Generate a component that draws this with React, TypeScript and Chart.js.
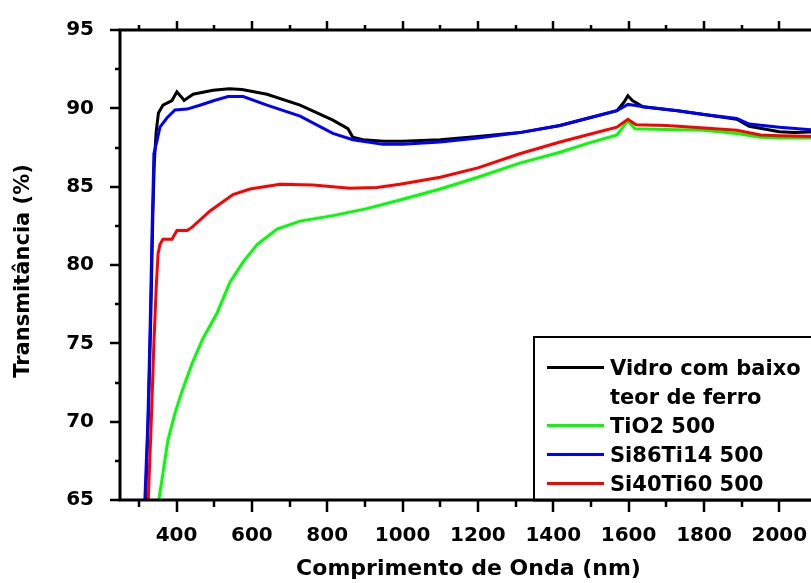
import { useEffect, useRef } from "react";
import { Chart, registerables } from "chart.js";

Chart.register(...registerables);

// ---- Data (wavelength in nm, transmittance in %) ----
const vidroX = [305, 318, 326, 332, 337, 341, 346, 352, 364, 388, 401, 408, 414, 420, 444, 497, 540, 574, 640, 728, 815, 855, 868, 895, 950, 1000, 1100, 1200, 1311, 1418, 1489, 1569, 1588, 1598, 1610, 1638, 1730, 1800, 1887, 1920, 2000, 2040, 2100];
const vidroY = [60, 65, 71, 77, 83, 86.5, 88.5, 89.7, 90.2, 90.5, 91.05, 90.85, 90.7, 90.5, 90.9, 91.15, 91.25, 91.2, 90.9, 90.2, 89.25, 88.7, 88.15, 88.0, 87.9, 87.9, 88.0, 88.2, 88.45, 88.9, 89.35, 89.85, 90.4, 90.8, 90.5, 90.1, 89.85, 89.6, 89.3, 88.85, 88.5, 88.45, 88.5];

const tio2X = [338, 353, 364, 377, 396, 414, 441, 470, 507, 542, 577, 614, 667, 728, 815, 905, 993, 1100, 1200, 1311, 1418, 1489, 1569, 1598, 1617, 1700, 1800, 1887, 1950, 2000, 2100];
const tio2Y = [60, 65, 66.7, 68.8, 70.55, 71.9, 73.7, 75.3, 76.9, 78.9, 80.2, 81.3, 82.3, 82.8, 83.15, 83.6, 84.15, 84.85, 85.6, 86.5, 87.2, 87.75, 88.3, 89.2, 88.7, 88.65, 88.6, 88.4, 88.15, 88.1, 88.1];

const si86X = [305, 316, 324, 330, 335, 340, 348, 356, 375, 396, 428, 462, 500, 537, 577, 640, 728, 815, 868, 948, 1000, 1100, 1200, 1311, 1418, 1489, 1569, 1598, 1615, 1638, 1730, 1800, 1887, 1920, 2000, 2100];
const si86Y = [60, 65, 70, 76, 82, 87.1, 87.9, 88.8, 89.4, 89.9, 89.95, 90.2, 90.5, 90.75, 90.75, 90.2, 89.5, 88.4, 88.0, 87.7, 87.7, 87.85, 88.1, 88.45, 88.9, 89.35, 89.85, 90.25, 90.2, 90.1, 89.85, 89.6, 89.35, 89.0, 88.8, 88.6];

const si40X = [310, 325, 333, 340, 346, 351, 356, 364, 388, 401, 428, 441, 489, 550, 595, 675, 762, 860, 932, 993, 1100, 1200, 1311, 1418, 1489, 1569, 1598, 1620, 1700, 1800, 1887, 1950, 2000, 2100];
const si40Y = [60, 65, 70, 75, 78.5, 80.7, 81.3, 81.65, 81.65, 82.2, 82.2, 82.4, 83.45, 84.5, 84.85, 85.15, 85.1, 84.9, 84.95, 85.15, 85.6, 86.2, 87.1, 87.85, 88.3, 88.8, 89.3, 88.95, 88.9, 88.75, 88.6, 88.3, 88.25, 88.2];

const seriesNames = ["Vidro com baixo teor de ferro", "TiO2 500", "Si86Ti14 500", "Si40Ti60 500"];
const legendLines = [["Vidro com baixo", "teor de ferro"], ["TiO2 500"], ["Si86Ti14 500"], ["Si40Ti60 500"]];
const seriesColors = ["#000000", "#00ff00", "#0000ff", "#ff0000"];

const xTickValues = [400, 600, 800, 1000, 1200, 1400, 1600, 1800, 2000];
const xMinorValues = [300, 500, 700, 900, 1100, 1300, 1500, 1700, 1900, 2100];
const yTickValues = [65, 70, 75, 80, 85, 90, 95];
const yMinorValues = [67.5, 72.5, 77.5, 82.5, 87.5, 92.5];

const xTitle = "Comprimento de Onda (nm)";
const yTitle = "Transmitância (%)";

const FONT = "'DejaVu Sans', Verdana, sans-serif";
const CANVAS_W = 830;
const CANVAS_H = 583;

const framePlugin = {
  id: "frameAndLegend",
  afterDraw(chart: any) {
    const { ctx, chartArea, scales } = chart;
    const { left, right, top, bottom } = chartArea;
    const x = scales.x;
    const y = scales.y;
    ctx.save();
    ctx.strokeStyle = "#000";
    ctx.lineWidth = 3;
    ctx.beginPath();
    ctx.moveTo(left - 1.5, top);
    ctx.lineTo(right, top);
    ctx.moveTo(left, top);
    ctx.lineTo(left, bottom);
    ctx.moveTo(left - 1.5, bottom);
    ctx.lineTo(right, bottom);
    ctx.moveTo(right, top);
    ctx.lineTo(right, bottom);
    ctx.stroke();

    ctx.lineWidth = 2.5;
    ctx.beginPath();
    for (const v of xTickValues) {
      const px = Math.round(x.getPixelForValue(v));
      ctx.moveTo(px, bottom);
      ctx.lineTo(px, bottom + 12);
      ctx.moveTo(px, top);
      ctx.lineTo(px, top - 9);
    }
    for (const v of xMinorValues) {
      const px = Math.round(x.getPixelForValue(v));
      ctx.moveTo(px, bottom);
      ctx.lineTo(px, bottom + 7);
      ctx.moveTo(px, top);
      ctx.lineTo(px, top - 5);
    }
    for (const v of yTickValues) {
      const py = Math.round(y.getPixelForValue(v));
      ctx.moveTo(left, py);
      ctx.lineTo(left - 10, py);
    }
    for (const v of yMinorValues) {
      const py = Math.round(y.getPixelForValue(v));
      ctx.moveTo(left, py);
      ctx.lineTo(left - 5, py);
    }
    ctx.stroke();

    // y title
    ctx.fillStyle = "#000";
    ctx.font = `bold 21px ${FONT}`;
    ctx.textAlign = "center";
    ctx.textBaseline = "middle";
    ctx.translate(24, 271);
    ctx.rotate(-Math.PI / 2);
    ctx.fillText(yTitle, 0, 0);
    ctx.restore();

    // legend
    ctx.save();
    const boxL = 534;
    const boxT = 337;
    ctx.fillStyle = "#fff";
    ctx.fillRect(boxL, boxT, right - boxL + 20, bottom - boxT);
    ctx.strokeStyle = "#000";
    ctx.lineWidth = 2;
    ctx.strokeRect(boxL, boxT, right - boxL + 20, bottom - boxT);
    ctx.lineWidth = 3;
    ctx.beginPath();
    ctx.moveTo(boxL - 1, bottom);
    ctx.lineTo(right, bottom);
    ctx.stroke();
    ctx.font = `bold 21px ${FONT}`;
    ctx.textAlign = "left";
    ctx.textBaseline = "alphabetic";
    const baselines = [[375, 403.5], [433], [462], [491]];
    legendLines.forEach((lines, i) => {
      const yLine = baselines[i][0] - 7.5;
      ctx.strokeStyle = seriesColors[i];
      ctx.lineWidth = 3;
      ctx.beginPath();
      ctx.moveTo(547, yLine);
      ctx.lineTo(604, yLine);
      ctx.stroke();
      ctx.fillStyle = "#000";
      lines.forEach((t, j) => ctx.fillText(t, 610, baselines[i][j]));
    });
    ctx.restore();
  },
};

export default function App() {
  const canvasRef = useRef<HTMLCanvasElement | null>(null);

  useEffect(() => {
    if (!canvasRef.current) return;
    const xs = [vidroX, tio2X, si86X, si40X];
    const ys = [vidroY, tio2Y, si86Y, si40Y];
    const datasets = seriesNames.map((name, i) => ({
      label: name,
      data: xs[i].map((xv, k) => ({ x: xv, y: ys[i][k] })),
      borderColor: seriesColors[i],
      backgroundColor: seriesColors[i],
      borderWidth: 3,
      pointRadius: 0,
      tension: 0,
      fill: false,
      order: 4 - i,
    }));
    const tickFont = { family: FONT, size: 20, weight: "bold" as const };
    const chart = new Chart(canvasRef.current, {
      type: "line",
      data: { datasets },
      options: {
        animation: false,
        responsive: false,
        maintainAspectRatio: false,
        layout: { padding: { left: 0, top: 25, right: CANVAS_W - 817, bottom: 0 } },
        plugins: { legend: { display: false }, tooltip: { enabled: false } },
        scales: {
          x: {
            type: "linear",
            min: 250,
            max: 2100,
            afterBuildTicks: (s: any) => {
              s.ticks = xTickValues.map((v) => ({ value: v }));
            },
            afterFit: (s: any) => {
              s.height = 83;
            },
            grid: { display: false },
            border: { display: false },
            ticks: {
              color: "#000",
              font: tickFont,
              padding: 16,
              maxRotation: 0,
              autoSkip: false,
              callback: (v: any) => String(v),
            },
            title: {
              display: true,
              text: xTitle,
              color: "#000",
              font: { family: FONT, size: 22, weight: "bold" as const },
              padding: { top: 0, bottom: 1 },
            },
          },
          y: {
            type: "linear",
            min: 65,
            max: 95,
            afterBuildTicks: (s: any) => {
              s.ticks = yTickValues.map((v) => ({ value: v }));
            },
            afterFit: (s: any) => {
              s.width = 120;
            },
            grid: { display: false },
            border: { display: false },
            ticks: {
              color: "#000",
              font: tickFont,
              padding: 18,
              autoSkip: false,
              callback: (v: any) => String(v),
            },
            title: { display: false },
          },
        },
      },
      plugins: [framePlugin],
    });
    return () => chart.destroy();
  }, []);

  return (
    <div
      style={{
        position: "fixed",
        left: 0,
        top: 0,
        width: 811,
        height: 583,
        overflow: "hidden",
        background: "#fff",
      }}
    >
      <canvas ref={canvasRef} width={CANVAS_W} height={CANVAS_H} style={{ display: "block" }} />
    </div>
  );
}
